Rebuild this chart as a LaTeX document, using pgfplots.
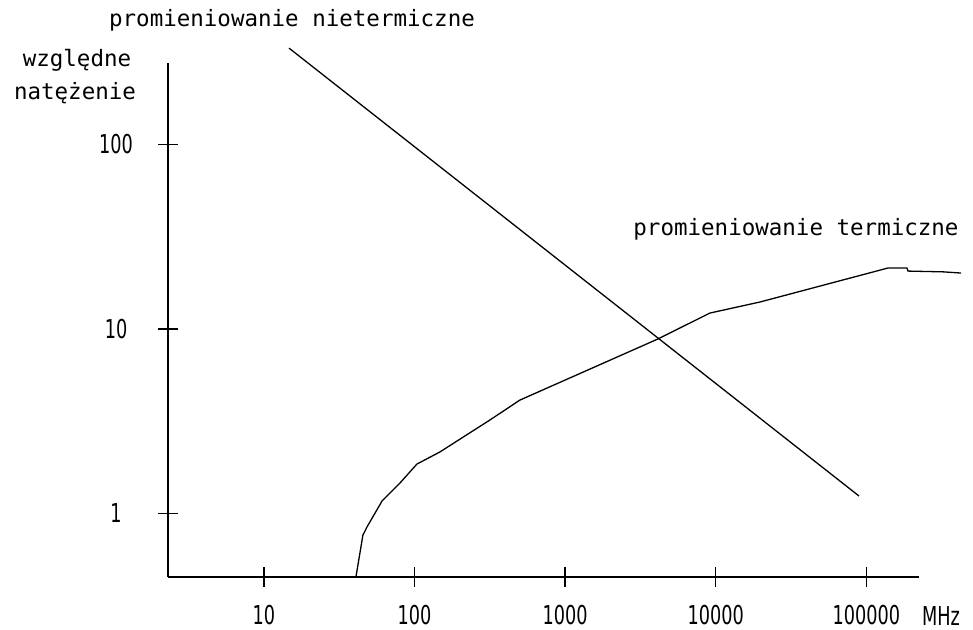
\documentclass[border=0pt]{standalone}
\usepackage{pgfplots}
\pgfplotsset{compat=1.18}
\usepackage{fontspec}
\setmainfont{DejaVu Sans Mono}
\newfontfamily\tickfont[FakeStretch=0.68]{DejaVu Sans}
\newcommand{\lblfont}{\fontsize{22.5bp}{24bp}\selectfont}
\newcommand{\tfont}{\tickfont\fontsize{26bp}{28bp}\selectfont}
\begin{document}
\begin{tikzpicture}
\path[use as bounding box] (0,0) rectangle (973bp,630bp);
\begin{axis}[
  at={(168bp,53bp)}, anchor=south west,
  scale only axis, width=751bp, height=514bp,
  xmode=log, ymode=log,
  xmin=2.305, xmax=223600, ymin=0.4527, ymax=276.5,
  axis lines=left,
  axis line style={-, line width=1.6bp, black},
  xtick={10,100,1000,10000,100000},
  xticklabels={10,100,1000,10000,100000},
  ytick={1,10,100}, yticklabels={1,10,100},
  xminorticks=false, yminorticks=false,
  tick align=center, major tick length=20bp,
  tick style={black, line width=1.4bp},
  clip=false,
  /pgf/number format/assume math mode=true,
  ticklabel style={font=\tfont},
  xticklabel style={anchor=center, yshift=-28bp},
  yticklabel style={anchor=center, xshift=-42bp},
]
\addplot[black, line width=1.3bp] coordinates {
  (14.66,333) (89300,1.244)
};
\addplot[black, line width=1.3bp] coordinates {
  (40.8,0.4527) (45.4,0.764) (48.3,0.845) (60.8,1.169) (80.0,1.463)
  (103.7,1.854) (147,2.153) (316,3.21) (501,4.12) (4130,8.83)
  (9140,12.2) (19630,14.0) (139000,21.4) (186000,21.4) (189000,20.6)
  (325000,20.4) (425000,20.1)
};
\end{axis}
\node[anchor=base, font=\lblfont] at (292bp,603bp) {promieniowanie nietermiczne};
\node[anchor=base, font=\lblfont] at (77bp,563bp) {względne};
\node[anchor=base, font=\lblfont] at (75bp,530bp) {natężenie};
\node[anchor=base, font=\lblfont] at (796bp,394bp) {promieniowanie termiczne};
\node[anchor=center, font=\tfont] at (941bp,14bp) {MHz};
\end{tikzpicture}
\end{document}
